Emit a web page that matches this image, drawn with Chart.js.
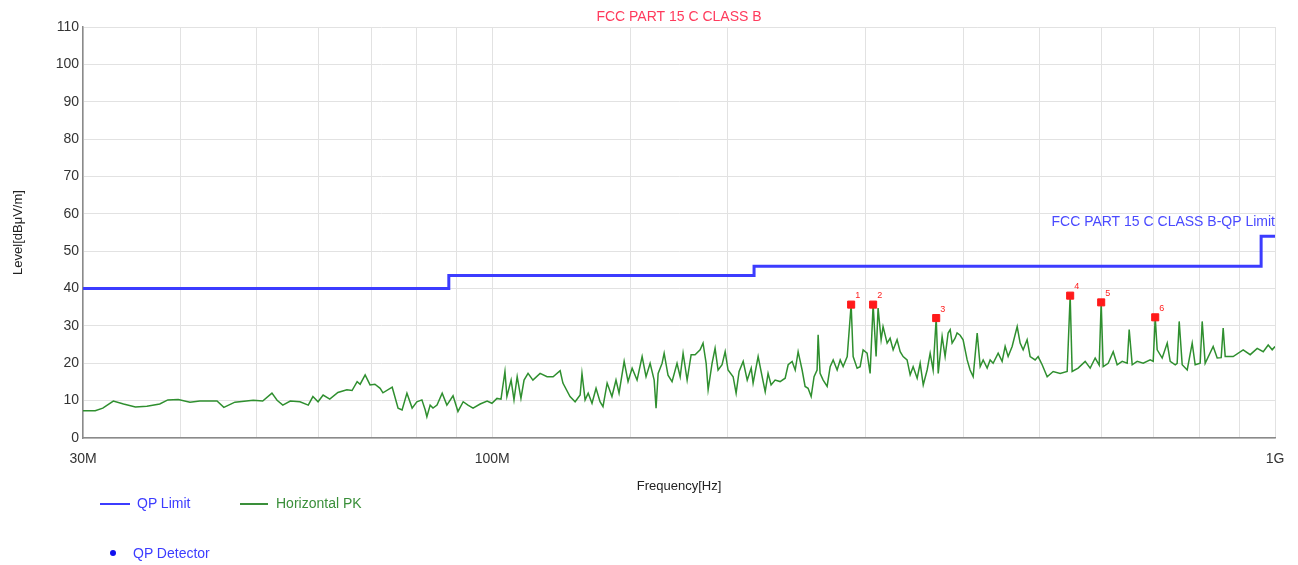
<!DOCTYPE html>
<html>
<head>
<meta charset="utf-8">
<script src="https://cdn.jsdelivr.net/npm/chart.js@4.4.1/dist/chart.umd.min.js"></script>
<style>
  html, body { margin: 0; padding: 0; background: #fff; }
  #wrap { position: relative; width: 1298px; height: 565px; font-family: "Liberation Sans", Arial, sans-serif; font-size: 14px; }
  #emc { position: absolute; left: 0; top: 0; }
  .lg { position: absolute; white-space: nowrap; }
  .sw { position: absolute; height: 2px; }
</style>
</head>
<body>
<div id="wrap">
  <canvas id="emc" width="1298" height="565"></canvas>
  <div class="sw" style="left:100px;top:503px;width:30px;background:#3c3cff;"></div>
  <div class="lg" style="left:137px;top:495px;color:#3c3cff;">QP Limit</div>
  <div class="sw" style="left:240px;top:503px;width:28px;background:#3a8f3a;"></div>
  <div class="lg" style="left:276px;top:495px;color:#3a8f3a;">Horizontal PK</div>
  <div style="position:absolute;left:110px;top:550px;width:6px;height:6px;border-radius:3px;background:#1010ee;"></div>
  <div class="lg" style="left:133px;top:545px;color:#3c3cff;">QP Detector</div>
</div>
<script>
// EMC radiated emission scan, 30MHz - 1GHz (values in MHz / dBuV/m)

const limitFreq = [30, 88, 88, 216, 216, 960, 960, 1000];
const limitLevel = [40, 40, 43.5, 43.5, 46, 46, 54, 54];

const traceFreq = [
  30.0, 31.1, 31.8, 32.8, 33.8, 35.0, 36.2, 37.6, 38.5, 39.7,
  41.1, 42.3, 44.5, 45.4, 46.9, 49.5, 50.9, 52.3, 53.1, 54.0,
  55.2, 56.8, 58.2, 59.0, 59.9, 60.8, 62.0, 63.5, 65.2, 66.2,
  67.2, 67.8, 68.8, 69.8, 70.8, 71.9, 72.5, 74.5, 75.8, 76.7,
  77.8, 79.0, 80.1, 81.3, 82.1, 82.5, 83.3, 84.0, 85.0, 86.3,
  87.5, 89.1, 90.4, 91.8, 93.1, 94.5, 96.5, 98.5, 99.9, 101.4,
  102.6, 103.8, 104.4, 105.7, 106.6, 107.6, 108.8, 109.8, 111.1, 112.7,
  115.1, 117.5, 119.6, 122.1, 123.1, 125.7, 127.6, 129.5, 130.2, 131.4,
  132.6, 134.1, 135.7, 137.3, 138.5, 140.2, 142.2, 143.9, 145.2, 147.4,
  149.1, 150.9, 153.1, 155.4, 157.2, 159.1, 161.0, 161.9, 162.9, 164.8,
  165.8, 167.7, 169.7, 172.2, 173.8, 175.3, 177.4, 179.5, 181.6, 184.3,
  185.9, 187.6, 188.7, 190.9, 192.6, 194.3, 196.6, 198.4, 200.1, 203.1,
  204.9, 206.7, 209.2, 211.7, 214.2, 215.4, 218.6, 221.2, 223.2, 225.1,
  227.1, 229.8, 233.2, 236.7, 238.8, 241.6, 243.8, 245.9, 248.8, 251.0,
  253.2, 255.5, 257.7, 260.0, 260.8, 262.3, 264.7, 267.8, 270.2, 272.6,
  275.8, 278.3, 280.7, 284.1, 287.4, 289.1, 292.5, 295.1, 297.7, 301.2,
  303.9, 306.6, 309.3, 311.1, 313.9, 315.7, 319.5, 322.3, 325.2, 329.0,
  332.0, 334.9, 338.8, 341.9, 344.9, 349.0, 352.1, 355.3, 359.4, 362.6,
  365.8, 369.1, 371.3, 375.6, 378.9, 382.3, 384.6, 386.8, 390.2, 392.5,
  396.0, 399.5, 404.3, 407.8, 411.5, 416.4, 420.1, 423.8, 428.8, 432.6,
  436.4, 442.9, 448.1, 452.1, 456.1, 461.5, 468.4, 472.5, 476.7, 482.3,
  486.6, 493.8, 498.2, 504.1, 511.6, 520.7, 531.5, 542.6, 547.4, 550.6,
  560.4, 572.1, 580.6, 589.2, 596.2, 599.7, 603.2, 612.2, 621.3, 628.6,
  637.9, 647.4, 651.2, 657.0, 666.7, 678.6, 692.7, 698.9, 703.0, 707.1,
  717.6, 728.3, 734.7, 745.6, 749.9, 754.4, 761.1, 772.4, 783.8, 790.7,
  802.4, 807.2, 814.3, 833.7, 843.6, 853.6, 858.6, 863.7, 884.2, 910.6,
  929.6, 949.0, 966.0, 980.2, 991.8, 1000
];
const traceLevel = [
  7.3, 7.3, 8.0, 9.9, 9.1, 8.3, 8.5, 9.1, 10.2, 10.3,
  9.6, 9.9, 9.9, 8.2, 9.6, 10.1, 9.9, 12.0, 10.1, 8.8,
  9.9, 9.7, 8.8, 11.1, 9.7, 11.5, 10.4, 12.2, 12.9, 12.7,
  15.1, 14.4, 16.9, 14.2, 14.4, 13.3, 12.1, 13.6, 8.0, 7.5,
  12.0, 8.0, 9.7, 10.2, 7.5, 5.7, 8.8, 8.0, 8.8, 12.0,
  8.8, 11.3, 7.1, 9.7, 8.8, 8.0, 9.1, 9.9, 9.3, 10.6,
  10.4, 17.8, 11.1, 15.5, 10.2, 16.4, 10.6, 15.5, 17.3, 15.5,
  17.3, 16.4, 16.4, 18.0, 14.7, 11.1, 9.7, 11.5, 17.3, 10.2,
  12.0, 9.3, 13.3, 9.7, 8.4, 14.7, 11.1, 15.5, 12.0, 20.5,
  15.1, 18.7, 15.5, 21.8, 16.4, 20.0, 15.5, 8.0, 17.3, 20.0,
  22.7, 16.8, 15.1, 20.0, 16.4, 22.7, 15.5, 22.3, 22.3, 23.6,
  25.4, 20.0, 12.9, 20.0, 24.0, 18.2, 19.6, 23.1, 18.2, 16.4,
  12.0, 17.8, 20.5, 15.5, 18.7, 14.7, 21.8, 16.4, 12.4, 17.3,
  14.2, 15.5, 15.1, 16.0, 19.6, 20.5, 18.2, 23.1, 18.2, 13.8,
  13.3, 11.1, 16.4, 18.2, 27.6, 17.3, 15.5, 13.8, 19.1, 20.9,
  18.2, 20.9, 19.1, 21.8, 35.7, 21.8, 18.7, 19.1, 23.6, 22.7,
  17.3, 35.7, 21.8, 34.8, 26.3, 29.8, 25.4, 26.7, 23.6, 26.3,
  23.1, 21.8, 20.9, 16.9, 19.1, 16.0, 20.0, 14.2, 18.2, 22.7,
  18.2, 32.1, 17.3, 27.2, 21.8, 28.1, 29.0, 25.4, 26.7, 28.1,
  27.5, 26.3, 20.9, 18.2, 16.4, 28.1, 19.1, 20.9, 18.7, 20.9,
  20.0, 22.7, 20.5, 24.5, 21.8, 24.5, 29.8, 25.4, 23.6, 26.3,
  21.8, 20.9, 21.8, 19.6, 16.4, 17.8, 17.3, 17.8, 38.1, 17.8,
  18.7, 20.5, 18.7, 21.4, 19.5, 36.3, 19.1, 20.0, 23.1, 19.6,
  20.5, 20.0, 29.0, 19.6, 20.5, 20.0, 20.9, 20.5, 32.3, 23.6,
  21.4, 25.4, 20.5, 19.6, 20.0, 31.2, 19.6, 18.2, 25.4, 19.6,
  20.0, 31.2, 20.0, 24.5, 21.4, 21.5, 29.4, 21.8, 21.8, 23.6,
  22.3, 24.0, 23.1, 24.9, 23.6, 24.5
];

const markerFreq = [287.4, 306.6, 369.1, 547.4, 599.7, 703.0];
const markerLevel = [35.7, 35.7, 32.1, 38.1, 36.3, 32.3];
const markerNames = ['1', '2', '3', '4', '5', '6'];

const yTicks = [0, 10, 20, 30, 40, 50, 60, 70, 80, 90, 100, 110];
const xTickNames = { 30: '30M', 100: '100M', 1000: '1G' };

const chartTitle = 'FCC PART 15 C CLASS B';
const limitName = 'FCC PART 15 C CLASS B-QP Limit';

function toPoints(xs, ys) {
    return xs.map((x, i) => ({ x: x, y: ys[i] }));
}

const fontFamily = '"Liberation Sans", Arial, sans-serif';

const textPlugin = {
    id: 'emcText',
    afterDraw(chart) {
        const ctx = chart.ctx;
        const area = chart.chartArea;
        ctx.save();
        ctx.font = '14px ' + fontFamily;
        ctx.textBaseline = 'middle';

        ctx.fillStyle = '#ff3a5c';
        ctx.textAlign = 'center';
        ctx.fillText(chartTitle, (area.left + area.right) / 2, 17);

        ctx.fillStyle = '#4a4aff';
        ctx.textAlign = 'right';
        ctx.fillText(limitName, area.right, 222);

        const meta = chart.getDatasetMeta(0);
        ctx.fillStyle = '#ff2020';
        ctx.textAlign = 'left';
        ctx.font = '9px ' + fontFamily;
        meta.data.forEach((pt, i) => {
            ctx.fillText(markerNames[i], pt.x + 4, pt.y - 9);
        });
        ctx.restore();
    }
};

new Chart(document.getElementById('emc'), {
    type: 'scatter',
    data: {
        datasets: [
            {
                label: 'QP Detector',
                data: toPoints(markerFreq, markerLevel),
                showLine: false,
                pointStyle: 'rect',
                pointRadius: 5,
                backgroundColor: '#ff1a1a',
                borderColor: '#ff1a1a',
                borderWidth: 1,
                order: 0
            },
            {
                label: 'Horizontal PK',
                data: toPoints(traceFreq, traceLevel),
                showLine: true,
                borderColor: '#2f8f2f',
                borderWidth: 1.5,
                pointRadius: 0,
                tension: 0,
                order: 1
            },
            {
                label: 'QP Limit',
                data: toPoints(limitFreq, limitLevel),
                showLine: true,
                borderColor: '#3c3cff',
                borderWidth: 3,
                pointRadius: 0,
                tension: 0,
                order: 2
            }
        ]
    },
    options: {
        responsive: false,
        animation: false,
        devicePixelRatio: 1,
        layout: { padding: { top: 27, right: 23, left: 0, bottom: 0 } },
        plugins: {
            legend: { display: false },
            tooltip: { enabled: false }
        },
        scales: {
            x: {
                type: 'logarithmic',
                min: 30,
                max: 1000,
                afterFit(scale) { scale.height = 127; },
                grid: { color: '#e2e2e2', drawTicks: false },
                border: { color: '#8a8a8a', width: 1.5 },
                ticks: {
                    autoSkip: false,
                    maxRotation: 0,
                    padding: 13,
                    color: '#333',
                    font: { family: fontFamily, size: 14 },
                    callback: (v) => xTickNames[Math.round(v)] || ''
                },
                title: {
                    display: true,
                    text: 'Frequency[Hz]',
                    color: '#222',
                    font: { family: fontFamily, size: 13 },
                    padding: { top: 0, bottom: 71 }
                }
            },
            y: {
                min: 0,
                max: 110,
                afterFit(scale) { scale.width = 83; },
                afterBuildTicks(scale) { scale.ticks = yTicks.map(v => ({ value: v })); },
                grid: { color: '#e2e2e2', drawTicks: false },
                border: { color: '#8a8a8a', width: 1.5 },
                ticks: {
                    padding: 4,
                    color: '#333',
                    font: { family: fontFamily, size: 14 }
                },
                title: {
                    display: true,
                    text: 'Level[dBμV/m]',
                    color: '#222',
                    font: { family: fontFamily, size: 13 },
                    padding: { top: 11, bottom: 0 }
                }
            }
        }
    },
    plugins: [textPlugin]
});
</script>
</body>
</html>
